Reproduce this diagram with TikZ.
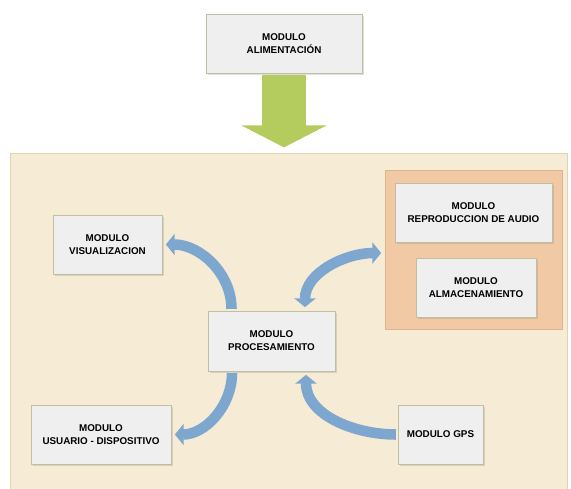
\documentclass[tikz,border=0pt]{standalone}
\usepackage{fontspec}
\setmainfont{Liberation Sans}
\usetikzlibrary{arrows.meta,shadows}
\definecolor{areafill}{HTML}{F6ECD5}
\definecolor{areadraw}{HTML}{E3D3B3}
\definecolor{peach}{HTML}{F2C9A5}
\definecolor{peachdraw}{HTML}{DDB48E}
\definecolor{boxfill}{HTML}{EFEFEF}
\definecolor{boxdraw}{HTML}{BFC0A0}
\definecolor{leafgreen}{HTML}{B4CC5E}
\definecolor{flowblue}{HTML}{7EA7D0}
\begin{document}
\begin{tikzpicture}[x=0.02cm, y=-0.02cm,
	modbox/.style={rectangle, draw=boxdraw, fill=boxfill, minimum height=1.18cm, align=center,
		font=\fontsize{5.6}{7.4}\selectfont\bfseries,
		drop shadow={shadow xshift=1pt, shadow yshift=-1pt, opacity=0.25}},
	flow/.style={draw=flowblue, line width=6pt, shorten >=2pt, shorten <=1pt,
		-{Triangle[length=5pt, width=12pt]}}]
	\useasboundingbox (0,0) rectangle (571,489);
	\node (area) at (288.5, 322.5)	[rectangle, draw=areadraw, fill=areafill, minimum width=11.14cm, minimum height=6.78cm] {};
	\node (grupo) at (473.5, 249.5)	[rectangle, draw=peachdraw, fill=peach, minimum width=3.54cm, minimum height=3.18cm] {};
	\node (alim) at (284, 43.5)	[modbox, minimum width=3.12cm]	{MODULO\\ALIMENTACIÓN};
	\node (repro) at (473.5, 212.5)	[modbox, minimum width=3.14cm]	{MODULO\\REPRODUCCION DE AUDIO};
	\node (alma) at (476, 287.5)	[modbox, minimum width=2.4cm]	{MODULO\\ALMACENAMIENTO};
	\node (visu) at (107.5, 244.5)	[modbox, minimum width=2.18cm]	{MODULO\\VISUALIZACION};
	\node (proc) at (271.5, 341)	[modbox, minimum width=2.54cm, minimum height=1.2cm]	{MODULO\\PROCESAMIENTO};
	\node (usr) at (101, 434.5)	[modbox, minimum width=2.8cm]	{MODULO\\USUARIO - DISPOSITIVO};
	\node (gps) at (440.5, 434.5)	[modbox, minimum width=1.7cm]	{MODULO GPS};
	\draw[draw=leafgreen, line width=25.6pt, shorten <=1pt, shorten >=3pt,
		-{Triangle[length=12.5pt, width=48pt]}] (alim.south) -- (alim.south |- area.north);
	\draw[flow] ([xshift=-0.8cm]proc.north) to[out=90, in=0] (visu.east);
	\draw[flow, {Triangle[length=5pt, width=12pt]}-{Triangle[length=5pt, width=12pt]}, shorten <=2pt]
		([yshift=-2pt]grupo.west) to[out=180, in=90] ([xshift=0.67cm]proc.north);
	\draw[flow] ([xshift=-0.79cm]proc.south) to[out=-90, in=0] (usr.east);
	\draw[flow] (gps.west) to[out=180, in=-90] ([xshift=0.69cm]proc.south);
\end{tikzpicture}
\end{document}
